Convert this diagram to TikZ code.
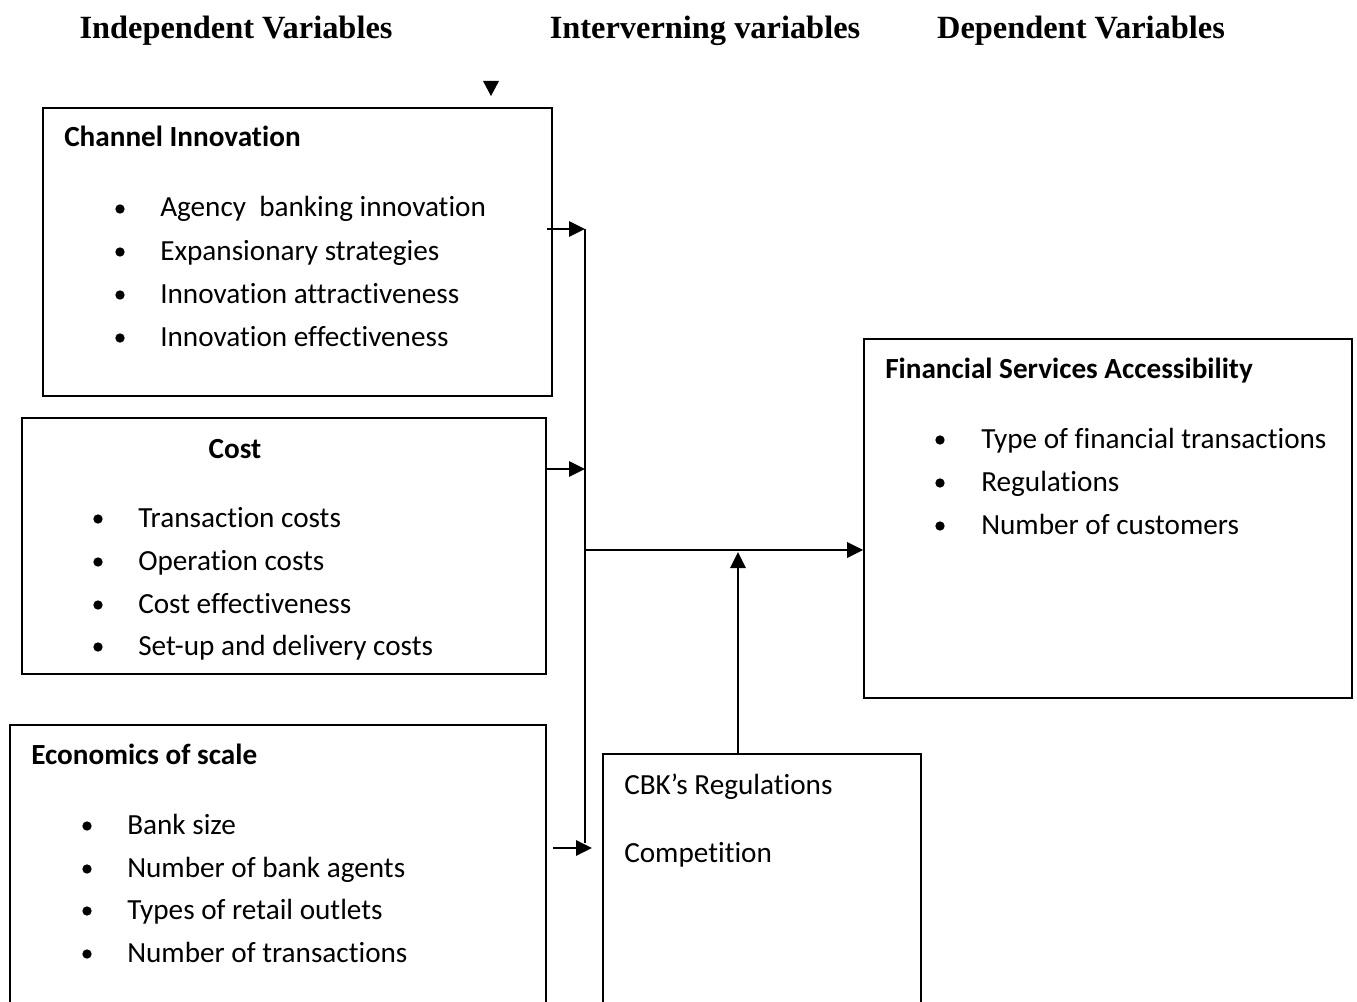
\documentclass[tikz,border=0pt]{standalone}
\usepackage{fontspec}
\setmainfont[Ligatures={NoCommon}]{Carlito}
\newfontfamily\hdrfont{Liberation Serif}
\usetikzlibrary{arrows.meta,fit}
\begin{document}
\begin{tikzpicture}[x=0.75pt,y=-0.75pt,
 box/.style={draw, line width=1.2pt, inner sep=0pt},
 hdr/.style={anchor=base, font=\hdrfont\bfseries\fontsize{24.3}{29}\selectfont, inner sep=0pt},
 ttl/.style={anchor=base west, font=\bfseries\fontsize{21.9}{26}\selectfont, inner sep=0pt},
 itm/.style={anchor=base west, font=\fontsize{21.9}{26}\selectfont, inner sep=0pt},
 dot/.style={circle, fill=black, inner sep=0pt, minimum size=7pt},
 arr/.style={line width=1.7pt, -{Triangle[length=12pt,width=11.5pt]}},
 ln/.style={line width=1.7pt}]
\useasboundingbox (0,0) rectangle (1357,1002);
\clip (0,0) rectangle (1357,1002);

% headers
\node[hdr] (h1) at (236,39) {Independent Variables};
\node[hdr] (h2) at (705,39) {Interverning variables};
\node[hdr] (h3) at (1081,39) {Dependent Variables};

% stray arrowhead
\fill (483,81) -- (499,81) -- (491,96) -- cycle;

% box corners
\coordinate (ci1) at (43,108);  \coordinate (ci2) at (552,396);
\coordinate (co1) at (22,418);  \coordinate (co2) at (546,674);
\coordinate (ec1) at (10,725);  \coordinate (ec2) at (546,1012);
\coordinate (cb1) at (603,754); \coordinate (cb2) at (921,1012);
\coordinate (fs1) at (864,339); \coordinate (fs2) at (1352,698);

\node[box, fit=(ci1)(ci2)] (ci) {};
\node[box, fit=(co1)(co2)] (co) {};
\node[box, fit=(ec1)(ec2)] (ec) {};
\node[box, fit=(cb1)(cb2)] (cb) {};
\node[box, fit=(fs1)(fs2)] (fs) {};

% Channel Innovation
\node[ttl] (ciT) at (64,147) {Channel Innovation};
\node[dot] (cib1) at (120,209) {}; \node[itm] (ci1t) at (160,217) {Agency~ banking innovation};
\node[dot] (cib2) at (120,252) {}; \node[itm] (ci2t) at (160,260) {Expansionary strategies};
\node[dot] (cib3) at (120,295) {}; \node[itm] (ci3t) at (160,303) {Innovation attractiveness};
\node[dot] (cib4) at (120,338) {}; \node[itm] (ci4t) at (160,346) {Innovation effectiveness};

% Cost
\node[ttl, anchor=base] (coT) at (235,458) {Cost};
\node[dot] (cob1) at (98,519) {}; \node[itm] (co1t) at (138,527) {Transaction costs};
\node[dot] (cob2) at (98,562) {}; \node[itm] (co2t) at (138,570) {Operation costs};
\node[dot] (cob3) at (98,605) {}; \node[itm] (co3t) at (138,613) {Cost effectiveness};
\node[dot] (cob4) at (98,647) {}; \node[itm] (co4t) at (138,655) {Set-up and delivery costs};

% Economics of scale
\node[ttl] (ecT) at (31,764) {Economics of scale};
\node[dot] (ecb1) at (87,826) {}; \node[itm] (ec1t) at (127,834) {Bank size};
\node[dot] (ecb2) at (87,869) {}; \node[itm] (ec2t) at (127,877) {Number of bank agents};
\node[dot] (ecb3) at (87,911) {}; \node[itm] (ec3t) at (127,919) {Types of retail outlets};
\node[dot] (ecb4) at (87,954) {}; \node[itm] (ec4t) at (127,962) {Number of transactions};

% CBK
\node[itm] (cb1t) at (624,794) {CBK’s Regulations};
\node[itm] (cb2t) at (624,862) {Competition};

% Financial Services Accessibility
\node[ttl] (fsT) at (885,378) {Financial Services Accessibility};
\node[dot] (fsb1) at (940,440) {}; \node[itm] (fs1t) at (981,448) {Type of financial transactions};
\node[dot] (fsb2) at (940,483) {}; \node[itm] (fs2t) at (981,491) {Regulations};
\node[dot] (fsb3) at (940,526) {}; \node[itm] (fs3t) at (981,534) {Number of customers};

% connectors
\coordinate (bt) at (585,229);
\coordinate (bb) at (585,843);
\coordinate (j2) at (585,469);
\coordinate (j3) at (592,848);
\coordinate (jm) at (585,550);
\coordinate (jc) at (738,552);

\draw[ln] (bt) -- (bb);
\draw[arr] ([xshift=-4.5pt]ci.east |- bt) -- (bt);
\draw[arr] (co.east |- j2) -- (j2);
\draw[arr] ([xshift=4.5pt]ec.east |- j3) -- (j3);
\draw[arr] (jm) -- (fs.west |- jm);
\draw[arr] (cb.north -| jc) -- (jc);
\end{tikzpicture}
\end{document}
